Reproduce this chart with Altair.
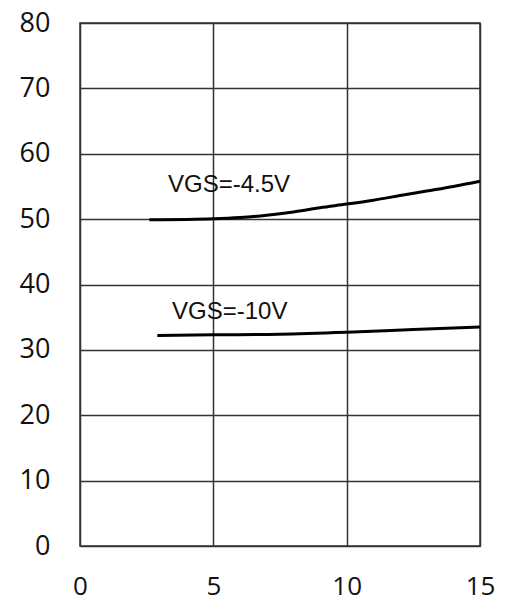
import altair as alt
import pandas as pd

x_45 = [2.6, 4, 5, 6, 7, 8, 9, 10, 11, 12, 13, 14, 15]
y_45 = [49.9, 49.95, 50.05, 50.25, 50.6, 51.1, 51.75, 52.3, 52.9, 53.6, 54.3, 55.0, 55.8]
x_10 = [2.9, 5, 7.5, 10, 12.5, 15]
y_10 = [32.2, 32.3, 32.4, 32.7, 33.1, 33.5]

label_text = ["VGS=-4.5V", "VGS=-10V"]
label_x = [3.3, 3.45]
label_y = [54.1, 34.7]

df = pd.concat([
    pd.DataFrame({"x": x_45, "y": y_45, "s": "VGS=-4.5V"}),
    pd.DataFrame({"x": x_10, "y": y_10, "s": "VGS=-10V"}),
])
lab = pd.DataFrame({"t": label_text, "x": label_x, "y": label_y})

xs = alt.Scale(domain=[0, 15], nice=False)
ys = alt.Scale(domain=[0, 80], nice=False)

xaxis = alt.Axis(values=[0, 5, 10, 15], title=None, grid=True, ticks=False, domain=False,
                 labelFont="Open Sans", labelFontSize=26, labelColor="#111", labelFlush=False,
                 labelBaseline="middle", labelPadding=40, gridColor="#333", gridWidth=1.5,
                 gridOpacity=1)
yaxis = alt.Axis(values=[0, 10, 20, 30, 40, 50, 60, 70, 80], title=None, grid=True, ticks=False,
                 domain=False, labelFont="Open Sans", labelFontSize=27, labelColor="#111",
                 labelFlush=False, labelPadding=30, gridColor="#333", gridWidth=1.5, gridOpacity=1)

lines = alt.Chart(df).mark_line(color="black", strokeWidth=3, interpolate="monotone").encode(
    x=alt.X("x:Q", scale=xs, axis=xaxis),
    y=alt.Y("y:Q", scale=ys, axis=yaxis),
    detail="s:N",
)

texts = alt.Chart(lab).mark_text(align="left", baseline="alphabetic", font="Liberation Sans",
                                 fontSize=24, color="#111").encode(
    x=alt.X("x:Q", scale=xs),
    y=alt.Y("y:Q", scale=ys),
    text="t:N",
)

chart = alt.layer(lines, texts).properties(
    width=400, height=523,
    autosize=alt.AutoSizeParams(type="none"),
    padding={"left": 72, "top": 15, "right": 24, "bottom": 56},
    background="white",
).configure_view(stroke="#333", strokeWidth=1.5)

chart.save("out.html", embed_options={"renderer": "svg", "actions": False})
